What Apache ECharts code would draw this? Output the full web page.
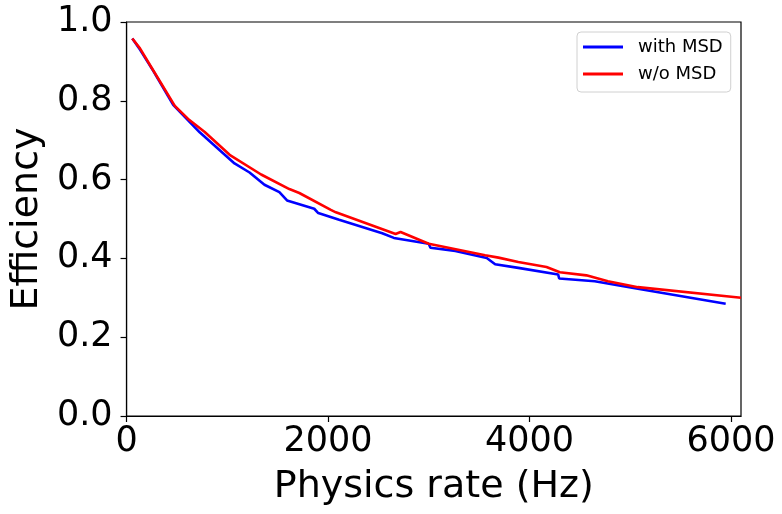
<!DOCTYPE html>
<html>
<head>
<meta charset="utf-8">
<script src="https://cdn.jsdelivr.net/npm/echarts@6/dist/echarts.min.js"></script>
<style>
  html, body { margin: 0; padding: 0; background: #fff; }
  #main { width: 782px; height: 514px; }
</style>
</head>
<body>
<div id="main"></div>
<script>
// values
var seriesNames = ['with MSD', 'w/o MSD'];
var xTicks = [0, 2000, 4000, 6000];

var withMsdRate = [57, 133, 265, 463, 726, 1072, 1221, 1369, 1517, 1593, 1863, 1903, 2110, 2538, 2654, 3000, 3017, 3264, 3576, 3659, 3889, 4285, 4295, 4648, 5076, 5948];
var withMsdEff  = [0.958, 0.930, 0.876, 0.790, 0.720, 0.641, 0.618, 0.587, 0.568, 0.547, 0.526, 0.515, 0.498, 0.464, 0.452, 0.437, 0.427, 0.419, 0.401, 0.385, 0.376, 0.359, 0.349, 0.342, 0.323, 0.285];

var woMsdRate = [57, 133, 249, 479, 611, 776, 1023, 1336, 1616, 1715, 2028, 2078, 2671, 2720, 3000, 3560, 3692, 3889, 4169, 4302, 4565, 4779, 5076, 6100];
var woMsdEff  = [0.958, 0.933, 0.884, 0.787, 0.754, 0.721, 0.663, 0.613, 0.576, 0.566, 0.523, 0.517, 0.462, 0.467, 0.437, 0.408, 0.402, 0.391, 0.378, 0.365, 0.357, 0.342, 0.327, 0.300];

function pairs(xs, ys) {
  return xs.map(function (x, i) { return [x, ys[i]]; });
}

var font = 'DejaVu Sans';
var myChart = echarts.init(document.getElementById('main'));

var option = {
  animation: false,
  grid: {
    left: 126, top: 22, width: 615, height: 394,
    show: true, borderColor: '#000', borderWidth: 1.2
  },
  legend: {
    orient: 'vertical',
    left: 577, top: 32,
    padding: [6, 8, 9, 6],
    itemWidth: 40, itemHeight: 3,
    itemGap: 9,
    icon: 'rect',
    borderColor: '#d0d0d0', borderWidth: 1, borderRadius: 4,
    backgroundColor: '#fff',
    textStyle: { fontFamily: font, fontSize: 18, color: '#000', lineHeight: 18, padding: [0, 0, 0, 10] },
    data: seriesNames
  },
  xAxis: {
    type: 'value',
    min: 0, max: 6100,
    name: 'Physics rate (Hz)',
    nameLocation: 'middle',
    nameGap: 52,
    nameTextStyle: { fontFamily: font, fontSize: 38, color: '#000' },
    splitLine: { show: false },
    axisLine: { lineStyle: { color: '#000', width: 1.2 } },
    axisTick: { show: true, inside: false, length: 6, customValues: xTicks, lineStyle: { color: '#000', width: 1.2 } },
    axisLabel: {
      customValues: xTicks, margin: 8, fontFamily: font, fontSize: 35, color: '#000',
      formatter: function (v) { return String(v); }
    }
  },
  yAxis: {
    type: 'value',
    min: 0, max: 1, interval: 0.2,
    name: 'Efficiency',
    nameLocation: 'middle',
    nameGap: 78,
    nameTextStyle: { fontFamily: font, fontSize: 38, color: '#000' },
    splitLine: { show: false },
    axisLine: { show: true, lineStyle: { color: '#000', width: 1.2 } },
    axisTick: { show: true, inside: false, length: 6, lineStyle: { color: '#000', width: 1.2 } },
    axisLabel: {
      margin: 14, fontFamily: font, fontSize: 35, color: '#000',
      formatter: function (v) { return v.toFixed(1); }
    }
  },
  series: [
    {
      name: seriesNames[0],
      type: 'line',
      showSymbol: false,
      color: '#0000ff',
      lineStyle: { width: 2.6, color: '#0000ff' },
      data: pairs(withMsdRate, withMsdEff)
    },
    {
      name: seriesNames[1],
      type: 'line',
      showSymbol: false,
      color: '#ff0000',
      lineStyle: { width: 2.6, color: '#ff0000' },
      data: pairs(woMsdRate, woMsdEff)
    }
  ]
};

myChart.setOption(option);
</script>
</body>
</html>
